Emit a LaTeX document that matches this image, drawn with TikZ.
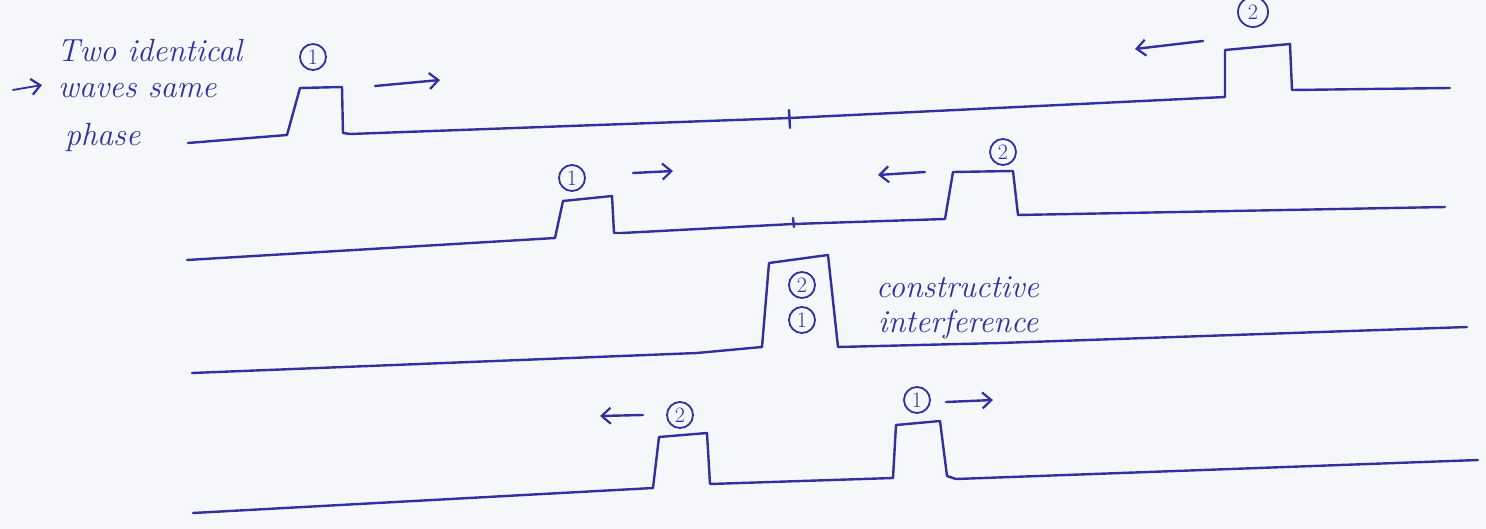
\documentclass[tikz,border=0pt]{standalone}
\usetikzlibrary{arrows.meta}
\definecolor{ink}{RGB}{48,48,158}
\definecolor{paper}{RGB}{246,247,251}
\begin{document}
\begin{tikzpicture}[x=1pt,y=-1pt,
  pen/.style={draw=ink,line width=2.4pt,line join=round,line cap=round},
  mover/.style={pen,-{Straight Barb[length=9pt,width=16pt,line width=2.2pt]}},
  num/.style={circle,draw=ink,line width=1.8pt,text=ink,inner sep=0pt,minimum size=26pt,font=\fontsize{22}{22}\selectfont},
  hand/.style={text=ink,anchor=base west,inner sep=0pt,font=\fontsize{32}{34}\selectfont\itshape}]
\useasboundingbox (0,0) rectangle (1486,529);
\fill[paper] (0,0) rectangle (1486,529);
\clip (0,0) rectangle (1486,529);
% labels
\node[hand] (t1) at (57,62) {Two identical};
\node[hand] (t2) at (58,98) {waves same};
\node[hand] (t3) at (65,146) {phase};
\coordinate (la) at (13,90); \coordinate (lb) at (42,85);
\draw[mover,line width=1.8pt] (la) -- (lb);
% row 1
\draw[pen] (188,143) -- (287,135) -- (300,88) -- (342,87) -- (343,133) -- (350,134) -- (790,118) -- (1225,97) -- (1225,50) -- (1290,44) -- (1292,90) -- (1450,88);
\draw[pen] (789,110) -- (790,128);
\node[num] (r1a) at (313,57) {1};
\node[num,minimum size=30pt] (r1b) at (1253,12) {2};
\coordinate (a1s) at (375,86); \coordinate (a1e) at (440,80);
\draw[mover] (a1s) -- (a1e);
\coordinate (b1s) at (1203,41); \coordinate (b1e) at (1135,49);
\draw[mover] (b1s) -- (b1e);
% row 2
\draw[pen] (187,260) -- (555,238) -- (563,201) -- (612,196) -- (614,233) -- (622,233) -- (793,224) -- (945,219) -- (953,172) -- (1013,171) -- (1018,215) -- (1445,207);
\draw[pen] (793,218) -- (794,227);
\node[num] (r2a) at (572,178) {1};
\node[num] (r2b) at (1003,152) {2};
\coordinate (a2s) at (633,173); \coordinate (a2e) at (673,171);
\draw[mover] (a2s) -- (a2e);
\coordinate (b2s) at (925,172); \coordinate (b2e) at (878,175);
\draw[mover] (b2s) -- (b2e);
% row 3
\draw[pen] (192,373) -- (697,353) -- (762,347) -- (769,263) -- (828,255) -- (838,347) -- (1000,343) -- (1467,327);
\node[num] (r3b) at (802,285) {2};
\node[num] (r3a) at (802,320) {1};
\node[hand] (c1) at (876,298) {constructive};
\node[hand] (c2) at (878,333) {interference};
% row 4
\draw[pen] (193,513) -- (653,488) -- (659,437) -- (707,433) -- (710,484) -- (893,478) -- (896,425) -- (940,421) -- (947,476) -- (956,479) -- (1478,460);
\node[num] (r4b) at (680,415) {2};
\node[num] (r4a) at (917,400) {1};
\coordinate (b4s) at (643,415); \coordinate (b4e) at (600,416);
\draw[mover] (b4s) -- (b4e);
\coordinate (a4s) at (946,402); \coordinate (a4e) at (993,400);
\draw[mover] (a4s) -- (a4e);
\end{tikzpicture}
\end{document}
